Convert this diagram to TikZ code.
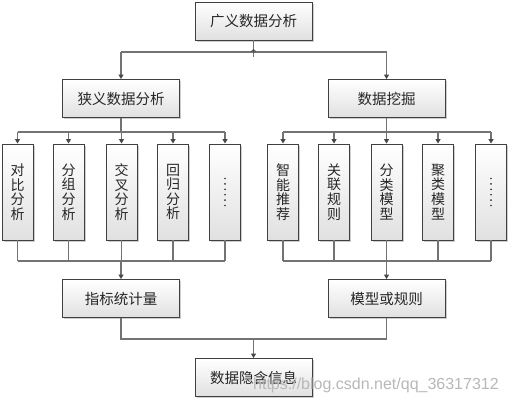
\documentclass[tikz,border=0pt]{standalone}
\usepackage{fontspec}
\setmainfont{Liberation Sans}
\newfontfamily\cjk{Noto Sans CJK SC}
\usetikzlibrary{shadows,arrows.meta}
\tikzset{
  box/.style={draw=black!75, line width=0.9pt, top color=white, bottom color=black!12,
    drop shadow={shadow xshift=1.6pt, shadow yshift=-1.6pt, opacity=0.35, fill=black!55},
    inner sep=0pt, text=black!85, font=\cjk\fontsize{14.5}{15}\selectfont},
  wide/.style={box, minimum width=117pt, minimum height=38pt},
  leaf/.style={box, minimum width=31pt, minimum height=96pt, align=center,
    font=\cjk\fontsize{14}{14.6}\selectfont},
  conn/.style={draw=black!55, line width=1.1pt},
  arr/.style={conn, -{Triangle[length=4.5pt,width=5pt,color=black!72]}},
  dotmark/.style={fill=black!80}
}
\begin{document}
\begin{tikzpicture}[x=1pt,y=-1pt]
\fill[white] (0,0) rectangle (510,401);
\useasboundingbox (0,0) rectangle (510,401);
% nodes
\node[wide] (top) at (253.5,21) {广义数据分析};
\node[wide] (nl) at (121,98.5) {狭义数据分析};
\node[wide] (dm) at (386.5,98.5) {数据挖掘};
\node[leaf] (l1) at (17.5,192) {对\\比\\分\\析};
\node[leaf] (l2) at (68.5,192) {分\\组\\分\\析};
\node[leaf] (l3) at (121.5,192) {交\\叉\\分\\析};
\node[leaf] (l4) at (173,192) {回\\归\\分\\析};
\node[leaf] (l5) at (225,192) {};
\node[leaf] (r1) at (283,192) {智\\能\\推\\荐};
\node[leaf] (r2) at (334,192) {关\\联\\规\\则};
\node[leaf] (r3) at (386.5,192) {分\\类\\模\\型};
\node[leaf] (r4) at (438,192) {聚\\类\\模\\型};
\node[leaf] (r5) at (491,192) {};
\foreach \k in {0,...,5}{
  \fill[dotmark] ([yshift=-13.5pt+\k*5.4pt]l5.center) circle (0.95pt);
  \fill[dotmark] ([yshift=-13.5pt+\k*5.4pt]r5.center) circle (0.95pt);
}
\node[wide] (stat) at (121,298.5) {指标统计量};
\node[wide] (model) at (386.5,298.5) {模型或规则};
\node[wide] (info) at (253.5,377.5) {数据隐含信息};
% top connectors
\coordinate (j0) at (253.5,52);
\coordinate (j0b) at (253.5,57);
\coordinate (tipa) at (253.5,53.5);
\coordinate (tipb) at (253.5,49);
\draw[conn] (top.south) -- (j0b);
\draw[conn] (nl.north |- j0) -- (dm.north |- j0);
\draw[arr] (nl.north |- j0) -- (nl.north);
\draw[arr] (dm.north |- j0) -- (dm.north);
\draw[draw=black!70, line width=0.8pt, -{Straight Barb[length=2.2pt,width=5pt]}] (tipa) -- (tipb);
% left branch
\coordinate (jl) at (121,132);
\coordinate (kl) at (121,261);
\draw[conn] (nl.south) -- (jl);
\draw[conn] (l1.north |- jl) -- (l5.north |- jl);
\draw[conn] (l1.south |- kl) -- (l5.south |- kl);
\foreach \i in {1,...,5}{
  \draw[arr] (l\i.north |- jl) -- (l\i.north);
  \draw[conn] (l\i.south) -- (l\i.south |- kl);
}
\draw[arr] (stat.north |- kl) -- (stat.north);
% right branch
\coordinate (jr) at (386.5,132);
\coordinate (kr) at (386.5,261);
\draw[conn] (dm.south) -- (jr);
\draw[conn] (r1.north |- jr) -- (r5.north |- jr);
\draw[conn] (r1.south |- kr) -- (r5.south |- kr);
\foreach \i in {1,...,5}{
  \draw[arr] (r\i.north |- jr) -- (r\i.north);
  \draw[conn] (r\i.south) -- (r\i.south |- kr);
}
\draw[arr] (model.north |- kr) -- (model.north);
% bottom
\coordinate (m) at (253.5,339);
\draw[conn] (stat.south) -- (stat.south |- m) -- (model.south |- m) -- (model.south);
\draw[arr] (m) -- (info.north);
% watermark
\node[anchor=base west, inner sep=0pt, text=black!28, font=\fontsize{16}{16}\selectfont] (wm) at (253,389) {https://blog.csdn.net/qq\_36317312};
\end{tikzpicture}
\end{document}
